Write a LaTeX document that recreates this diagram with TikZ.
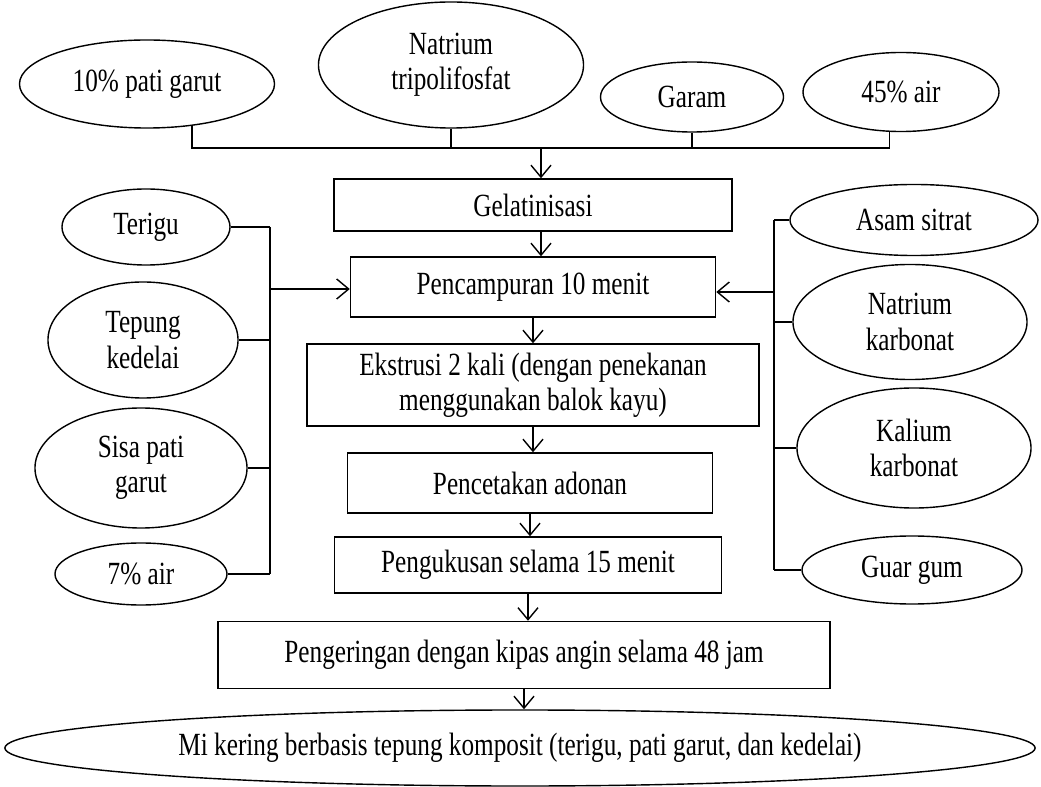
\documentclass[tikz,border=0pt]{standalone}
\usepackage{fontspec}
\setmainfont{Liberation Serif}[FakeStretch=0.78]
\usetikzlibrary{shapes.geometric,arrows.meta}

\begin{document}
\begin{tikzpicture}[
  x=0.025cm, y=-0.025cm,
  every node/.style={font=\fontsize{23}{25}\selectfont},
  bahan/.style={draw, ellipse, line width=1pt, inner sep=0pt, align=center},
  proses/.style={draw, line width=1pt, inner sep=0pt, align=center},
  line/.style={line width=1pt},
  arr/.style={line width=1pt, -{Straight Barb[length=3mm,width=5mm]}}
]
  \useasboundingbox (0,0) rectangle (1041,787);

  \node[bahan, minimum width=6.375cm, minimum height=2.2cm] (pg) at (147,84) {10\% pati garut};
  \node[bahan, minimum width=6.625cm, minimum height=3.15cm] (ntp) at (451,65) {Natrium\\tripolifosfat};
  \node[bahan, minimum width=4.575cm, minimum height=1.75cm] (garam) at (692,97) {Garam};
  \node[bahan, minimum width=4.9cm, minimum height=1.975cm] (air45) at (901,92) {45\% air};

  \node[bahan, minimum width=4.2cm, minimum height=1.9cm] (terigu) at (146,227) {Terigu};
  \node[bahan, minimum width=4.75cm, minimum height=2.9cm] (kedelai) at (143,340) {Tepung\\kedelai};
  \node[bahan, minimum width=5.3cm, minimum height=3.0cm] (sisa) at (141,468) {Sisa pati\\garut};
  \node[bahan, minimum width=4.3cm, minimum height=1.55cm] (air7) at (141,574) {7\% air};

  \node[bahan, minimum width=6.2cm, minimum height=1.775cm] (sitrat) at (914,220) {Asam sitrat};
  \node[bahan, minimum width=5.85cm, minimum height=2.875cm] (nakarb) at (910,322) {Natrium\\karbonat};
  \node[bahan, minimum width=5.85cm, minimum height=3.0cm] (kkarb) at (914,448) {Kalium\\karbonat};
  \node[bahan, minimum width=5.5cm, minimum height=1.7cm] (guar) at (912,570) {Guar gum};

  \node[proses, minimum width=9.95cm, minimum height=1.3cm] (gel) at (533,205) {Gelatinisasi};
  \node[proses, minimum width=9.125cm, minimum height=1.5cm] (campur) at (533,287) {Pencampuran 10 menit};
  \node[proses, minimum width=11.3cm, minimum height=2.05cm] (ekstrusi) at (533,385) {Ekstrusi 2 kali (dengan penekanan\\menggunakan balok kayu)};
  \node[proses, minimum width=9.125cm, minimum height=1.5cm] (cetak) at (530,483) {Pencetakan adonan};
  \node[proses, minimum width=9.675cm, minimum height=1.4cm] (kukus) at (528,565) {Pengukusan selama 15 menit};
  \node[proses, minimum width=15.3cm, minimum height=1.675cm] (kering) at (524,655) {Pengeringan dengan kipas angin selama 48 jam};
  \node[bahan, minimum width=25.75cm, minimum height=1.9cm] (mi) at (520,748) {Mi kering berbasis tepung komposit (terigu, pati garut, dan kedelai)};

  \coordinate (tbus) at (541,148);
  \coordinate (lbus) at (270,289);
  \coordinate (rbus) at (774,292);

  \draw[line] (pg.-43) -- (pg.-43 |- tbus) -- (air45.-106 |- tbus) -- (air45.-106);
  \draw[line] (ntp.south) -- (ntp.south |- tbus);
  \draw[line] (garam.south) -- (garam.south |- tbus);
  \draw[arr] (tbus) -- (tbus |- gel.north);

  \draw[line] (lbus |- terigu.east) -- (lbus |- air7.east);
  \draw[line] (terigu.east) -- (lbus |- terigu.east);
  \draw[line] (kedelai.east) -- (lbus |- kedelai.east);
  \draw[line] (sisa.east) -- (lbus |- sisa.east);
  \draw[line] (air7.east) -- (lbus |- air7.east);
  \draw[arr] (lbus) -- (lbus -| campur.west);

  \draw[line] (rbus |- sitrat.west) -- (rbus |- guar.west);
  \draw[line] (sitrat.west) -- (rbus |- sitrat.west);
  \draw[line] (nakarb.west) -- (rbus |- nakarb.west);
  \draw[line] (kkarb.west) -- (rbus |- kkarb.west);
  \draw[line] (guar.west) -- (rbus |- guar.west);
  \draw[arr] (rbus) -- (rbus -| campur.east);

  \draw[arr] (tbus |- gel.south) -- (tbus |- campur.north);
  \draw[arr] (campur.south) -- (campur.south |- ekstrusi.north);
  \draw[arr] (ekstrusi.south) -- (ekstrusi.south |- cetak.north);
  \draw[arr] (cetak.south) -- (cetak.south |- kukus.north);
  \draw[arr] (kukus.south) -- (kukus.south |- kering.north);
  \draw[arr] (kering.south) -- (kering.south |- mi.north);
\end{tikzpicture}
\end{document}
